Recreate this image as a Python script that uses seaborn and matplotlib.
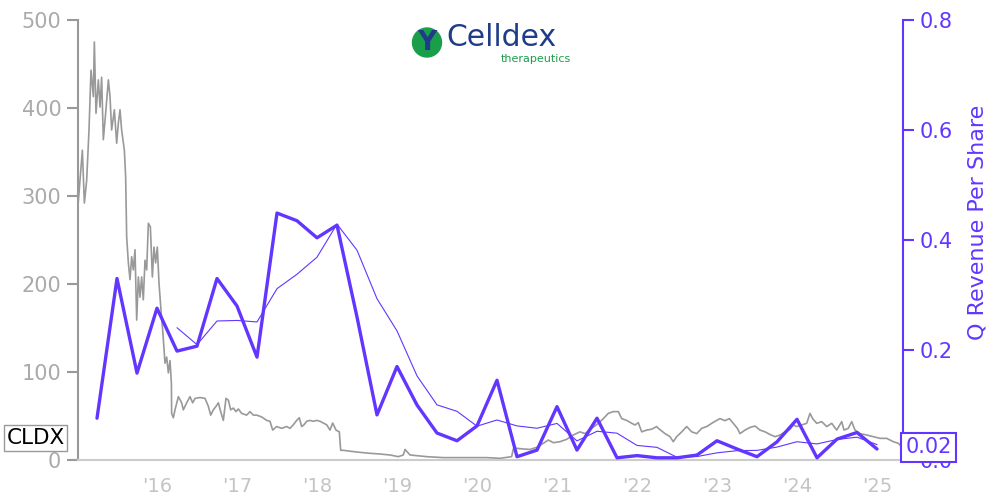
import numpy as np
import pandas as pd
import matplotlib
matplotlib.use("Agg")
import matplotlib.pyplot as plt
import matplotlib.transforms as mtransforms
from matplotlib.patches import Ellipse
import seaborn as sns

# ---------------------------
# Data
# ---------------------------
price_t = [2015.008, 2015.0375, 2015.067, 2015.092, 2015.121, 2015.15, 2015.175, 2015.204,
           2015.217, 2015.2375, 2015.267, 2015.2875, 2015.308, 2015.329, 2015.358, 2015.392,
           2015.4125, 2015.433, 2015.467, 2015.496, 2015.517, 2015.5375, 2015.558, 2015.592,
           2015.608, 2015.621, 2015.642, 2015.6625, 2015.683, 2015.704, 2015.725, 2015.746,
           2015.767, 2015.7875, 2015.808, 2015.829, 2015.85, 2015.871, 2015.892, 2015.917,
           2015.942, 2015.9625, 2015.983, 2016.004, 2016.025, 2016.05, 2016.071, 2016.1,
           2016.121, 2016.142, 2016.1625, 2016.18,
           2016.183, 2016.204, 2016.225, 2016.267, 2016.308, 2016.329, 2016.371, 2016.4125,
           2016.446, 2016.475, 2016.5375, 2016.6, 2016.642, 2016.671, 2016.704, 2016.746,
           2016.767, 2016.796, 2016.829, 2016.8625, 2016.892, 2016.921, 2016.954, 2016.9875,
           2017.017, 2017.058, 2017.121, 2017.1625, 2017.204, 2017.246, 2017.308, 2017.371,
           2017.4125, 2017.446, 2017.496, 2017.558, 2017.621, 2017.6625, 2017.704, 2017.746,
           2017.779, 2017.808, 2017.8375, 2017.871, 2017.9125, 2017.954, 2017.996, 2018.0375,
           2018.079, 2018.121, 2018.1625, 2018.196, 2018.2375, 2018.279, 2018.296, 2018.329,
           2018.4125, 2018.5375, 2018.6625, 2018.7875, 2018.9125, 2019.017, 2019.079, 2019.1,
           2019.1625, 2019.371, 2019.579, 2019.871, 2020.121, 2020.2875, 2020.433, 2020.454,
           2020.496, 2020.579, 2020.6625, 2020.746, 2020.829, 2020.892, 2020.954, 2021.0375,
           2021.121, 2021.204, 2021.2875, 2021.35, 2021.434, 2021.516, 2021.579, 2021.641,
           2021.704, 2021.766, 2021.809, 2021.871, 2021.934, 2021.975, 2022.016, 2022.059,
           2022.121, 2022.184, 2022.246, 2022.266, 2022.35, 2022.4125, 2022.454, 2022.496,
           2022.559, 2022.621, 2022.684, 2022.746, 2022.809, 2022.871, 2022.934, 2022.996,
           2023.0375, 2023.1, 2023.154, 2023.204, 2023.254, 2023.2875, 2023.35, 2023.4125,
           2023.475, 2023.5375, 2023.6, 2023.6625, 2023.725, 2023.7875, 2023.85, 2023.9125,
           2023.954, 2023.996, 2024.059, 2024.121, 2024.1625, 2024.196, 2024.246, 2024.309,
           2024.371, 2024.434, 2024.496, 2024.559, 2024.5875, 2024.641, 2024.684, 2024.725,
           2024.7875, 2024.871, 2024.954, 2025.0375, 2025.121, 2025.204, 2025.266, 2025.309]
price = [284, 318, 352, 292, 318, 375, 443, 413,
         475, 394, 432, 401, 435, 364, 394, 432,
         413, 375, 398, 360, 383, 398, 375, 352,
         322, 253, 224, 205, 231, 216, 239, 159,
         208, 185, 208, 182, 227, 216, 269, 265,
         208, 242, 224, 242, 201, 170, 148, 110,
         117, 99, 113, 87,
         53, 48, 57, 72, 65, 57, 65, 72,
         65, 70, 71, 70, 61, 51, 57, 62,
         65, 55, 45, 70, 68, 57, 59, 55,
         58, 53, 51, 55, 51, 51, 49, 45,
         44, 34, 38, 36, 38, 36, 40, 45,
         48, 38, 40, 44, 45, 44, 45, 44,
         42, 40, 34, 42, 34, 32, 11, 11,
         10, 8.7, 7.6, 6.8, 5.7, 3.8, 5.7, 12,
         5.7, 3.8, 2.7, 2.7, 2.7, 1.9, 3.8, 12.5,
         13.3, 12.5, 12, 14.4, 19, 22.7, 19.7, 20.8,
         23.5, 28.4, 32, 30, 36, 41.7, 47, 53,
         55, 55, 47, 45, 41.7, 39.8, 42.4, 32,
         34, 35, 38, 36, 30, 26.5, 20.8, 26.5,
         32, 38, 32, 30, 36, 38, 41.7, 45,
         47, 44.7, 47, 41.7, 36, 30, 34, 37,
         38.6, 34, 32, 29, 26.5, 28.4, 32, 35,
         39.8, 38, 39.8, 41.7, 53, 47, 41.7, 43.6,
         38, 41.7, 34, 43.6, 34, 36, 43.6, 34,
         30, 28.4, 26.5, 24.6, 24.6, 20.8, 19, 15]

rev_q = [2015.25, 2015.5, 2015.75, 2016.0, 2016.25, 2016.5, 2016.75, 2017.0,
         2017.25, 2017.5, 2017.75, 2018.0, 2018.25, 2018.5, 2018.75, 2019.0,
         2019.25, 2019.5, 2019.75, 2020.0, 2020.25, 2020.5, 2020.75, 2021.0,
         2021.25, 2021.5, 2021.75, 2022.0, 2022.25, 2022.5, 2022.75, 2023.0,
         2023.25, 2023.5, 2023.75, 2024.0, 2024.25, 2024.5, 2024.75, 2025.0]
rev = [0.076, 0.33, 0.158, 0.276, 0.198, 0.207, 0.33, 0.28,
       0.187, 0.449, 0.435, 0.404, 0.427, 0.26, 0.082, 0.17,
       0.10, 0.049, 0.035, 0.062, 0.145, 0.006, 0.018, 0.097,
       0.018, 0.076, 0.004, 0.008, 0.004, 0.004, 0.009, 0.035,
       0.02, 0.006, 0.033, 0.074, 0.004, 0.038, 0.05, 0.02]

year_ticks = list(range(2016, 2026))
year_labels = ["'16", "'17", "'18", "'19", "'20", "'21", "'22", "'23", "'24", "'25"]
price_ticks = [0, 100, 200, 300, 400, 500]
rev_ticks = [0.0, 0.2, 0.4, 0.6, 0.8]

df_price = pd.DataFrame({"t": price_t, "price": price})
df_rev = pd.DataFrame({"t": rev_q, "rev": rev})
# 4-quarter average; the chart only shows it from the 5th quarter on
df_rev["avg4"] = df_rev["rev"].rolling(4).mean()
df_rev.loc[:3, "avg4"] = np.nan

PURPLE = "#6236ff"
GREY = "#999999"
LIGHT = "#cccccc"

sns.set_style("white")
plt.rcParams['font.family'] = ['DejaVu Sans']

fig = plt.figure(figsize=(10, 5), dpi=100)
ax = fig.add_axes([0.078, 0.08, 0.825, 0.88])
ax2 = ax.twinx()

sns.lineplot(data=df_price, x="t", y="price", ax=ax, color=GREY, lw=1.2)
sns.lineplot(data=df_rev, x="t", y="avg4", ax=ax2, color=PURPLE, lw=0.8)
sns.lineplot(data=df_rev, x="t", y="rev", ax=ax2, color=PURPLE, lw=2.4)

ax.set_xlim(2015.0125, 2025.325)
ax.set_ylim(0, 500)
ax2.set_ylim(0, 0.8)

ax.set_xticks(year_ticks)
ax.set_xticklabels(year_labels)
ax.set_yticks(price_ticks)
ax2.set_yticks(rev_ticks)
ax2.set_yticklabels([f"{v:.1f}" for v in rev_ticks])

ax.set_xlabel("")
ax.set_ylabel("")
ax2.set_xlabel("")
ax2.set_ylabel("Q Revenue Per Share", color=PURPLE, fontsize=16)
ax2.yaxis.set_label_coords(1.078, 0.54)

for a in (ax, ax2):
    a.spines["top"].set_visible(False)
ax.spines["right"].set_visible(False)
ax.spines["left"].set_color(GREY)
ax.spines["bottom"].set_color(LIGHT)
ax.spines["left"].set_linewidth(1.5)
ax.spines["bottom"].set_linewidth(1.5)
ax2.spines["left"].set_visible(False)
ax2.spines["bottom"].set_visible(False)
ax2.spines["right"].set_color(PURPLE)
ax2.spines["right"].set_linewidth(1.5)

ax.tick_params(axis="x", colors=LIGHT, labelsize=14, length=8, width=1.5, direction="out", pad=4)
ax.tick_params(axis="x", labelcolor="#c4c4c4")
ax.tick_params(axis="y", colors=GREY, labelsize=15, length=8, width=1.5, direction="out", pad=4)
ax.tick_params(axis="y", labelcolor="#aaaaaa")
ax2.tick_params(axis="y", colors=PURPLE, labelsize=15, length=8, width=1.5, direction="out", pad=4)
ax.grid(False)
ax2.grid(False)

# value boxes on the axes
trans_l = mtransforms.blended_transform_factory(ax.transAxes, ax.transData)
ax.text(-0.016, price[-1] + 10, "CLDX", transform=trans_l, ha="right", va="center",
        fontsize=15.5, color="black", clip_on=False,
        bbox=dict(boxstyle="square,pad=0.12", fc="white", ec=GREY, lw=1))
trans_r = mtransforms.blended_transform_factory(ax2.transAxes, ax2.transData)
ax2.text(1.003, rev[-1] + 0.003, f"{rev[-1]:.2f}", transform=trans_r, ha="left", va="center",
         fontsize=15, color=PURPLE, clip_on=False, zorder=10,
         bbox=dict(boxstyle="square,pad=0.22", fc="white", ec=PURPLE, lw=1.5))

# logo
fig.add_artist(Ellipse((0.427, 0.915), 0.029, 0.058, transform=fig.transFigure,
                       color="#1a9e4a"))
fig.text(0.427, 0.913, "Y", ha="center", va="center", fontsize=19, fontweight="bold",
         color="#1f3c88")
fig.text(0.446, 0.909, "Celldex", ha="left", va="baseline", fontsize=21.5, color="#1f3c88")
fig.text(0.571, 0.875, "therapeutics", ha="right", va="baseline", fontsize=8,
         color="#1a9e4a")

fig.savefig("out.png", dpi=100)
